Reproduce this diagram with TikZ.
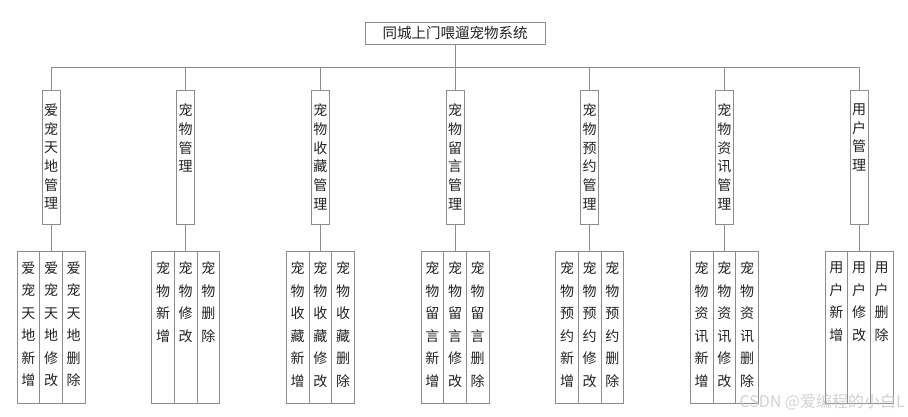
\documentclass[tikz,border=0pt]{standalone}
\usepackage{fontspec}
\setmainfont{Noto Sans CJK SC}
\definecolor{linegray}{HTML}{8C8C8C}
\definecolor{txt}{HTML}{222222}
\newcommand\vt[5]{\parbox[c][#1][t]{18pt}{\centering\fontsize{#3}{#4}\selectfont\vspace*{#2}#5\par}}
\begin{document}
\begin{tikzpicture}[x=1pt,y=-1pt,
  conn/.style={draw=linegray,line width=0.8pt},
  topbox/.style={draw=linegray,line width=0.8pt,fill=white,minimum width=180pt,minimum height=22pt,inner sep=0pt,text=txt,font=\fontsize{14.5}{16}\selectfont},
  midbox/.style={draw=linegray,line width=0.8pt,fill=white,minimum width=18pt,minimum height=134pt,inner sep=0pt,text=txt},
  leafbox/.style={draw=linegray,line width=0.8pt,fill=white,minimum width=22.667pt,minimum height=152pt,inner sep=0pt,text=txt}]
\useasboundingbox (0,0) rectangle (908,417);
\node[topbox] (root) at (455,33) {同城上门喂遛宠物系统};
\coordinate (bus) at (455,67);
\foreach \i/\p in {1/{爱\\宠\\天\\地},2/{宠\\物},3/{宠\\物\\收\\藏},4/{宠\\物\\留\\言},5/{宠\\物\\预\\约},6/{宠\\物\\资\\讯},7/{用\\户}}{
  \pgfmathsetmacro\cx{51+(\i-1)*134.667}
  \node[midbox] (m\i) at (\cx,157) {\vt{134pt}{13.8pt}{14}{18.7}{\p\\管\\理}};
  \node[leafbox] (a\i) at (\cx-22.667,327) {\vt{152pt}{10.8pt}{14}{22.5}{\p\\新\\增}};
  \node[leafbox] (b\i) at (\cx,327) {\vt{152pt}{10.8pt}{14}{22.5}{\p\\修\\改}};
  \node[leafbox] (c\i) at (\cx+22.667,327) {\vt{152pt}{10.8pt}{14}{22.5}{\p\\删\\除}};
  \draw[conn] (m\i.north) -- (m\i.north |- bus);
  \draw[conn] (m\i.south) -- (b\i.north);
}
\draw[conn] (root.south) -- (bus);
\draw[conn] (m1.north |- bus) -- (m7.north |- bus);
\node[text=gray!45,opacity=0.8,anchor=east,font=\fontsize{16}{18}\selectfont,inner sep=0pt] (wm) at (905,402) {CSDN @爱编程的小白L};
\end{tikzpicture}
\end{document}
